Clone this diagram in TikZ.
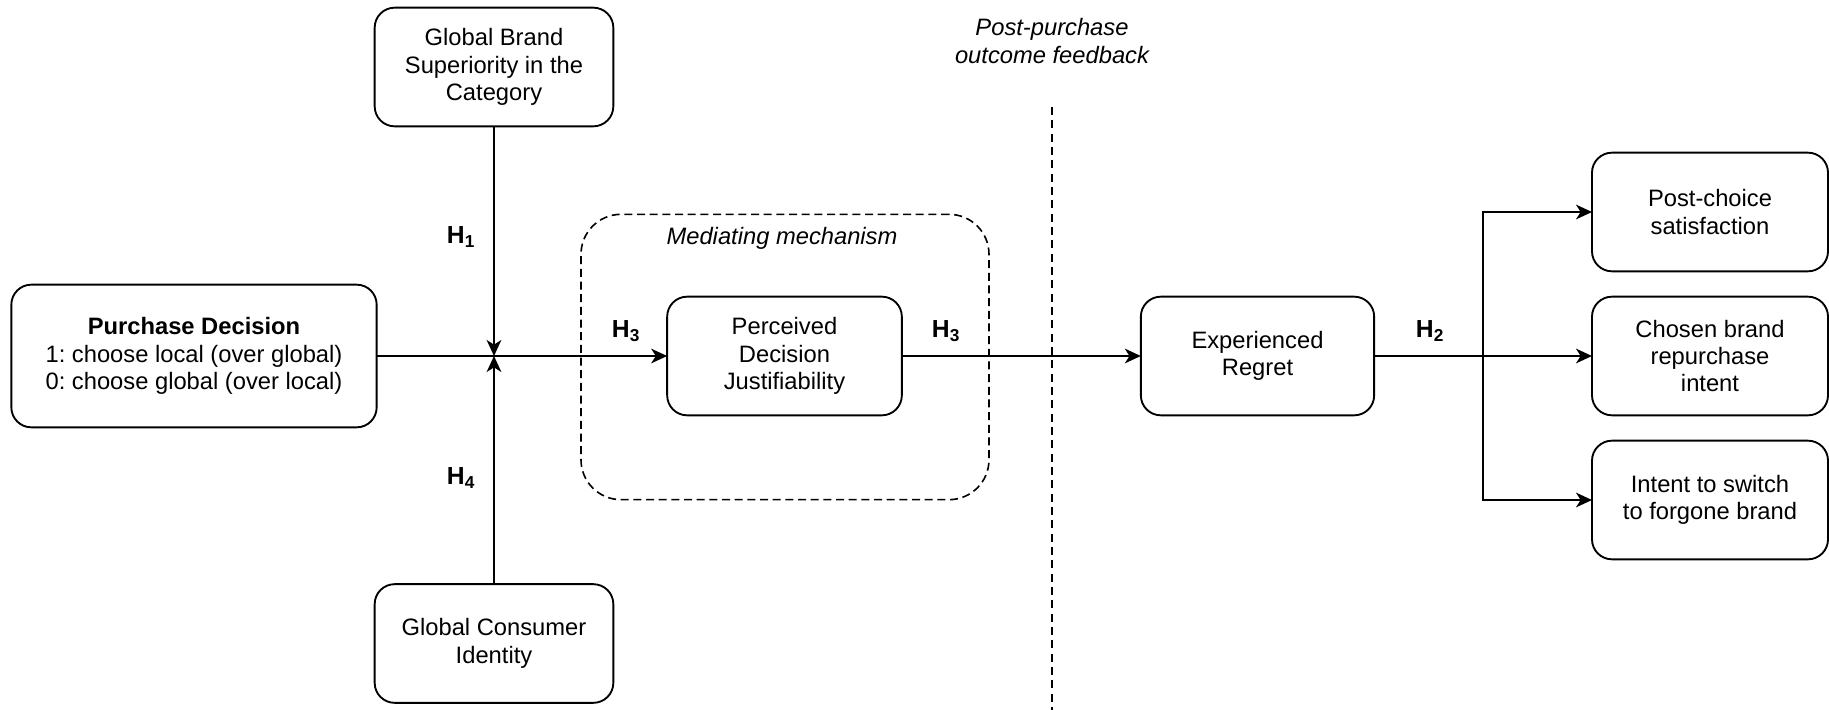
\documentclass[tikz,border=0pt]{standalone}
\usepackage{fontspec}
\setmainfont{Liberation Sans}
\frenchspacing
\usetikzlibrary{arrows.meta}
\begin{document}
\begin{tikzpicture}[x=0.75pt,y=-0.75pt,
  font=\fontsize{17.8}{20.5}\selectfont\frenchspacing,
  every node/.style={inner sep=0pt, outer sep=0pt},
  box/.style={draw, line width=1.4pt, rounded corners=15pt, align=center},
  smallbox/.style={box, minimum width=179pt, minimum height=89pt},
  conn/.style={line width=1.4pt},
  arr/.style={conn, -{Stealth[length=12pt,width=11pt,inset=3.5pt]}},
  hlab/.style={font=\fontsize{18.5}{20}\selectfont\bfseries},
  dashbox/.style={draw, line width=1.2pt, dash pattern=on 6pt off 3.5pt, rounded corners=30pt},
  dashline/.style={line width=0.9pt, dash pattern=on 6pt off 4pt}
]
\useasboundingbox (0,0) rectangle (1829,710);

% nodes
\node[box, minimum width=274pt, minimum height=107pt] (pd) at (194,356)
  {\textbf{Purchase Decision}\\1: choose local (over global)\\0: choose global (over local)};
\node[smallbox] (gbs) at (494,67) {Global Brand\\Superiority in the\\Category};
\node[smallbox] (gci) at (494,643.5) {Global Consumer\\Identity};
\node[dashbox, minimum width=306pt, minimum height=214pt] (med) at (785,357) {};
\node (medlab) at (782,238) {\itshape Mediating mechanism};
\node[box, minimum width=176pt, minimum height=89pt] (pdj) at (784.5,356) {Perceived\\Decision\\Justifiability};
\node[box, minimum width=175pt, minimum height=89pt] (er) at (1257.5,356) {Experienced\\Regret};
\node[smallbox, minimum width=177pt] (pcs) at (1710,212) {Post-choice\\satisfaction};
\node[smallbox, minimum width=177pt] (cbr) at (1710,356) {Chosen brand\\repurchase\\intent};
\node[smallbox, minimum width=177pt] (its) at (1710,500) {Intent to switch\\to forgone brand};
\node[align=center] (ppf) at (1052,41) {\itshape Post-purchase\\\itshape outcome feedback};

\coordinate (j) at (494,356);
\coordinate (dtop) at (1052,107);
\coordinate (dbot) at (1052,710);
\coordinate (br) at (1483,356);

% connectors
\draw[conn] (pd.east) -- (j);
\draw[arr] (gbs.south) -- (j);
\draw[arr] (gci.north) -- (j);
\draw[arr] (j) -- (pdj.west);
\draw[arr] (pdj.east) -- (er.west);
\draw[conn] (er.east) -- (br);
\draw[arr] (br) |- (pcs.west);
\draw[arr] (br) -- (cbr.west);
\draw[arr] (br) |- (its.west);
\draw[dashline] (dtop) -- (dbot);

% labels
\node[hlab] (h1) at (461,237) {H\textsubscript{1}};
\node[hlab] (h4) at (461,478) {H\textsubscript{4}};
\node[hlab] (h3a) at (626,331) {H\textsubscript{3}};
\node[hlab] (h3b) at (946,331) {H\textsubscript{3}};
\node[hlab] (h2) at (1430,331) {H\textsubscript{2}};
\end{tikzpicture}
\end{document}
